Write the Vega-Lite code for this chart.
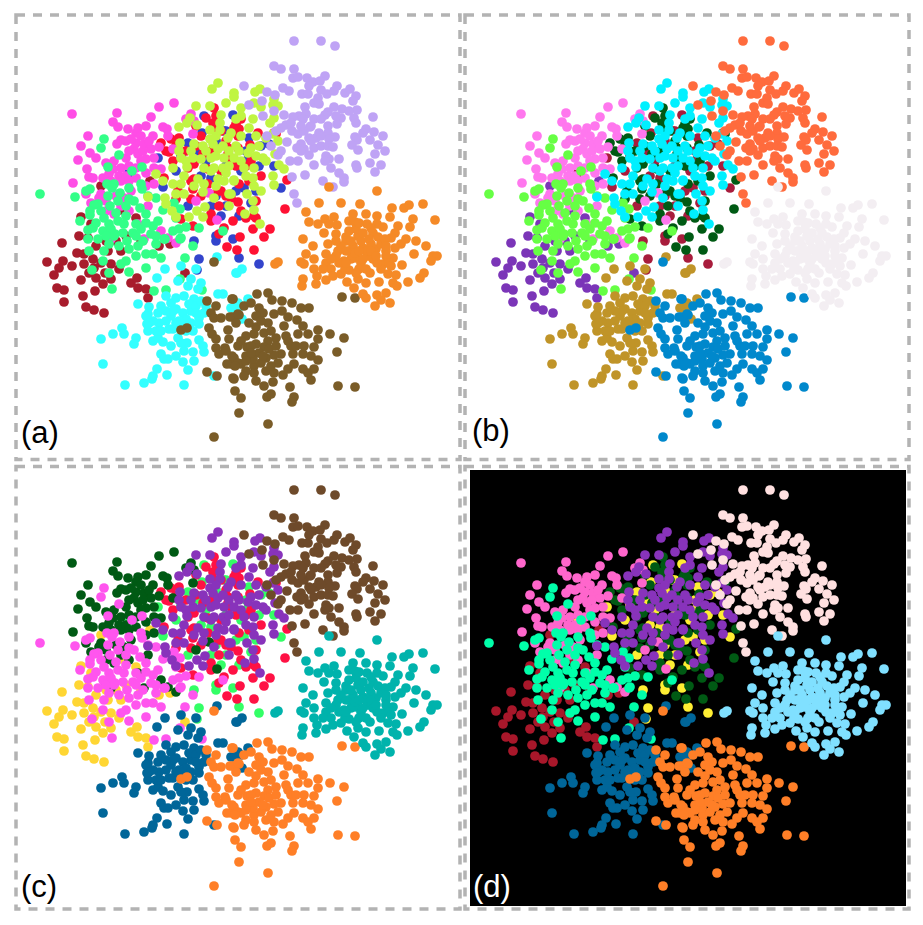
{"$schema":"https://vega.github.io/schema/vega-lite/v6.json","background":"white","padding":{"left":14,"top":13,"right":0,"bottom":0},"columns":2,"spacing":{"row":2.5,"column":1},"resolve":{"scale":{"color":"independent"}},"config":{"view":{"stroke":"#b3b3b3","strokeWidth":3.5,"strokeDash":[9,8]}},
"datasets":{"labels":[{"p":"a","x":20,"y":442,"t":"(a)"},{"p":"b","x":22,"y":440,"t":"(b)"},{"p":"c","x":20,"y":447,"t":"(c)"},{"p":"d","x":23,"y":447,"t":"(d)"}],"bg":[{"x":20,"x2":456,"y":20,"y2":456}],
"pts":[
{"c":"R","x":61,"y":242},{"c":"R","x":46,"y":261},{"c":"R","x":62,"y":260},{"c":"R","x":58,"y":267},{"c":"R","x":71,"y":265},{"c":"R","x":53,"y":274},{"c":"R","x":56,"y":287},{"c":"R","x":63,"y":289},{"c":"R","x":63,"y":301},{"c":"R","x":80,"y":279},{"c":"R","x":82,"y":295},{"c":"R","x":85,"y":306},{"c":"R","x":93,"y":309},{"c":"R","x":103,"y":312},{"c":"R","x":94,"y":290},{"c":"R","x":76,"y":252},{"c":"R","x":83,"y":253},{"c":"R","x":83,"y":263},{"c":"R","x":92,"y":258},{"c":"R","x":78,"y":235},{"c":"R","x":107,"y":250},{"c":"R","x":120,"y":250},{"c":"R","x":110,"y":263},{"c":"R","x":93,"y":267},{"c":"R","x":95,"y":277},{"c":"R","x":102,"y":283},{"c":"R","x":110,"y":278},{"c":"R","x":130,"y":282},{"c":"R","x":136,"y":277},{"c":"R","x":137,"y":287},{"c":"R","x":145,"y":288},{"c":"R","x":147,"y":297},{"c":"R","x":184,"y":272},{"c":"R","x":169,"y":243},{"c":"R","x":158,"y":245},{"c":"R","x":140,"y":240},{"c":"R","x":80,"y":216},{"c":"R","x":120,"y":209},{"c":"R","x":135,"y":217},{"c":"R","x":149,"y":180},{"c":"R","x":100,"y":185},{"c":"R","x":90,"y":223},{"c":"R","x":87,"y":237},{"c":"R","x":105,"y":240},{"c":"R","x":115,"y":240},{"c":"R","x":95,"y":245},{"c":"R","x":125,"y":235},{"c":"R","x":100,"y":262},{"c":"R","x":118,"y":268},{"c":"R","x":104,"y":272},{"c":"R","x":88,"y":272},
{"c":"U","x":203,"y":115},{"c":"U","x":232,"y":114},{"c":"U","x":201,"y":132},{"c":"U","x":223,"y":130},{"c":"U","x":187,"y":142},{"c":"U","x":157,"y":157},{"c":"U","x":128,"y":172},{"c":"U","x":162,"y":186},{"c":"U","x":210,"y":177},{"c":"U","x":187,"y":205},{"c":"U","x":193,"y":240},{"c":"U","x":215,"y":240},{"c":"U","x":232,"y":238},{"c":"U","x":238,"y":215},{"c":"U","x":220,"y":215},{"c":"U","x":215,"y":235},{"c":"U","x":198,"y":258},{"c":"U","x":196,"y":269},{"c":"U","x":238,"y":257},{"c":"U","x":258,"y":263},{"c":"U","x":248,"y":137},{"c":"U","x":280,"y":187},{"c":"U","x":247,"y":158},{"c":"U","x":258,"y":165},{"c":"U","x":273,"y":165},{"c":"U","x":240,"y":214},{"c":"U","x":250,"y":202},{"c":"U","x":243,"y":187},{"c":"U","x":268,"y":143},{"c":"U","x":215,"y":140},{"c":"U","x":225,"y":165},{"c":"U","x":205,"y":160},{"c":"U","x":240,"y":170},{"c":"U","x":195,"y":150},{"c":"U","x":235,"y":190},{"c":"U","x":215,"y":195},{"c":"U","x":200,"y":175},{"c":"U","x":225,"y":130},{"c":"U","x":175,"y":170},{"c":"U","x":180,"y":155},{"c":"U","x":255,"y":190},{"c":"U","x":245,"y":150},{"c":"U","x":260,"y":145},{"c":"U","x":225,"y":205},{"c":"U","x":210,"y":205},
{"c":"E","x":213,"y":107},{"c":"E","x":205,"y":117},{"c":"E","x":212,"y":122},{"c":"E","x":235,"y":123},{"c":"E","x":238,"y":128},{"c":"E","x":170,"y":138},{"c":"E","x":165,"y":150},{"c":"E","x":227,"y":147},{"c":"E","x":273,"y":132},{"c":"E","x":286,"y":179},{"c":"E","x":284,"y":208},{"c":"E","x":269,"y":228},{"c":"E","x":263,"y":236},{"c":"E","x":239,"y":236},{"c":"E","x":253,"y":249},{"c":"E","x":226,"y":246},{"c":"E","x":236,"y":249},{"c":"E","x":252,"y":228},{"c":"E","x":232,"y":220},{"c":"E","x":223,"y":227},{"c":"E","x":218,"y":233},{"c":"E","x":210,"y":220},{"c":"E","x":210,"y":213},{"c":"E","x":218,"y":205},{"c":"E","x":237,"y":201},{"c":"E","x":253,"y":215},{"c":"E","x":190,"y":198},{"c":"E","x":192,"y":188},{"c":"E","x":217,"y":190},{"c":"E","x":207,"y":168},{"c":"E","x":230,"y":157},{"c":"E","x":193,"y":178},{"c":"E","x":192,"y":225},{"c":"E","x":180,"y":218},{"c":"E","x":257,"y":132},{"c":"E","x":249,"y":144},{"c":"E","x":237,"y":135},{"c":"E","x":233,"y":127},{"c":"E","x":245,"y":217},{"c":"E","x":255,"y":217},{"c":"E","x":230,"y":197},{"c":"E","x":238,"y":183},{"c":"E","x":248,"y":180},{"c":"E","x":260,"y":175},{"c":"E","x":275,"y":133},{"c":"E","x":178,"y":137},{"c":"E","x":160,"y":142},{"c":"E","x":168,"y":151},{"c":"E","x":172,"y":160},{"c":"E","x":200,"y":135},{"c":"E","x":193,"y":163},{"c":"E","x":207,"y":183},{"c":"E","x":190,"y":180},{"c":"E","x":220,"y":190},{"c":"E","x":237,"y":147},{"c":"E","x":227,"y":153},{"c":"E","x":220,"y":130},{"c":"E","x":177,"y":190},{"c":"E","x":187,"y":167},{"c":"E","x":202,"y":153},{"c":"E","x":163,"y":177},{"c":"E","x":175,"y":198},{"c":"E","x":215,"y":130},{"c":"E","x":225,"y":140},{"c":"E","x":210,"y":150},{"c":"E","x":235,"y":165},{"c":"E","x":220,"y":170},{"c":"E","x":245,"y":165},{"c":"E","x":200,"y":195},{"c":"E","x":225,"y":195},{"c":"E","x":240,"y":210},{"c":"E","x":250,"y":160},{"c":"E","x":195,"y":145},{"c":"E","x":185,"y":150},{"c":"E","x":255,"y":200},{"c":"E","x":195,"y":125},{"c":"E","x":215,"y":115},{"c":"E","x":175,"y":145},{"c":"E","x":240,"y":118},
{"c":"P","x":71,"y":113},{"c":"P","x":116,"y":112},{"c":"P","x":112,"y":121},{"c":"P","x":117,"y":126},{"c":"P","x":158,"y":106},{"c":"P","x":150,"y":116},{"c":"P","x":173,"y":102},{"c":"P","x":87,"y":135},{"c":"P","x":80,"y":145},{"c":"P","x":89,"y":152},{"c":"P","x":95,"y":157},{"c":"P","x":77,"y":159},{"c":"P","x":86,"y":168},{"c":"P","x":72,"y":182},{"c":"P","x":88,"y":176},{"c":"P","x":92,"y":177},{"c":"P","x":127,"y":128},{"c":"P","x":137,"y":127},{"c":"P","x":145,"y":125},{"c":"P","x":135,"y":132},{"c":"P","x":162,"y":126},{"c":"P","x":166,"y":128},{"c":"P","x":167,"y":135},{"c":"P","x":152,"y":135},{"c":"P","x":120,"y":139},{"c":"P","x":116,"y":143},{"c":"P","x":135,"y":142},{"c":"P","x":143,"y":143},{"c":"P","x":158,"y":146},{"c":"P","x":150,"y":148},{"c":"P","x":133,"y":148},{"c":"P","x":137,"y":153},{"c":"P","x":125,"y":157},{"c":"P","x":153,"y":157},{"c":"P","x":145,"y":158},{"c":"P","x":105,"y":162},{"c":"P","x":113,"y":160},{"c":"P","x":120,"y":167},{"c":"P","x":118,"y":175},{"c":"P","x":135,"y":167},{"c":"P","x":153,"y":167},{"c":"P","x":160,"y":168},{"c":"P","x":102,"y":177},{"c":"P","x":108,"y":173},{"c":"P","x":120,"y":180},{"c":"P","x":135,"y":177},{"c":"P","x":153,"y":183},{"c":"P","x":100,"y":193},{"c":"P","x":85,"y":193},{"c":"P","x":90,"y":202},{"c":"P","x":98,"y":197},{"c":"P","x":130,"y":190},{"c":"P","x":123,"y":197},{"c":"P","x":105,"y":210},{"c":"P","x":113,"y":213},{"c":"P","x":128,"y":210},{"c":"P","x":147,"y":205},{"c":"P","x":137,"y":223},{"c":"P","x":160,"y":230},{"c":"P","x":190,"y":113},{"c":"P","x":193,"y":120},{"c":"P","x":185,"y":118},{"c":"P","x":192,"y":133},{"c":"P","x":172,"y":148},{"c":"P","x":195,"y":200},{"c":"P","x":216,"y":219},{"c":"P","x":208,"y":192},{"c":"P","x":105,"y":233},{"c":"P","x":110,"y":238},{"c":"P","x":143,"y":238},{"c":"P","x":175,"y":242},{"c":"P","x":167,"y":237},{"c":"P","x":125,"y":140},{"c":"P","x":130,"y":138},{"c":"P","x":140,"y":135},{"c":"P","x":148,"y":140},{"c":"P","x":128,"y":150},{"c":"P","x":142,"y":150},{"c":"P","x":140,"y":160},{"c":"P","x":128,"y":165},{"c":"P","x":112,"y":168},{"c":"P","x":125,"y":175},{"c":"P","x":145,"y":172},{"c":"P","x":110,"y":180},{"c":"P","x":128,"y":180},{"c":"P","x":145,"y":185},{"c":"P","x":115,"y":195},{"c":"P","x":105,"y":200},{"c":"P","x":120,"y":205},
{"c":"G","x":39,"y":193},{"c":"G","x":74,"y":196},{"c":"G","x":85,"y":190},{"c":"G","x":89,"y":188},{"c":"G","x":103,"y":138},{"c":"G","x":100,"y":147},{"c":"G","x":118,"y":154},{"c":"G","x":107,"y":166},{"c":"G","x":131,"y":170},{"c":"G","x":141,"y":166},{"c":"G","x":106,"y":183},{"c":"G","x":113,"y":183},{"c":"G","x":111,"y":187},{"c":"G","x":128,"y":187},{"c":"G","x":140,"y":183},{"c":"G","x":141,"y":188},{"c":"G","x":147,"y":195},{"c":"G","x":155,"y":197},{"c":"G","x":119,"y":192},{"c":"G","x":107,"y":195},{"c":"G","x":97,"y":203},{"c":"G","x":93,"y":204},{"c":"G","x":89,"y":210},{"c":"G","x":89,"y":214},{"c":"G","x":79,"y":220},{"c":"G","x":109,"y":205},{"c":"G","x":117,"y":200},{"c":"G","x":128,"y":198},{"c":"G","x":133,"y":200},{"c":"G","x":139,"y":207},{"c":"G","x":145,"y":213},{"c":"G","x":103,"y":217},{"c":"G","x":108,"y":223},{"c":"G","x":87,"y":229},{"c":"G","x":92,"y":227},{"c":"G","x":102,"y":230},{"c":"G","x":117,"y":220},{"c":"G","x":123,"y":223},{"c":"G","x":135,"y":223},{"c":"G","x":132,"y":232},{"c":"G","x":114,"y":233},{"c":"G","x":126,"y":240},{"c":"G","x":152,"y":225},{"c":"G","x":157,"y":220},{"c":"G","x":162,"y":209},{"c":"G","x":173,"y":202},{"c":"G","x":179,"y":208},{"c":"G","x":175,"y":217},{"c":"G","x":185,"y":226},{"c":"G","x":198,"y":227},{"c":"G","x":172,"y":230},{"c":"G","x":178,"y":228},{"c":"G","x":180,"y":237},{"c":"G","x":164,"y":238},{"c":"G","x":150,"y":233},{"c":"G","x":222,"y":230},{"c":"G","x":97,"y":238},{"c":"G","x":87,"y":238},{"c":"G","x":88,"y":250},{"c":"G","x":108,"y":243},{"c":"G","x":103,"y":250},{"c":"G","x":113,"y":235},{"c":"G","x":135,"y":235},{"c":"G","x":137,"y":245},{"c":"G","x":145,"y":253},{"c":"G","x":152,"y":253},{"c":"G","x":155,"y":243},{"c":"G","x":163,"y":238},{"c":"G","x":179,"y":238},{"c":"G","x":192,"y":245},{"c":"G","x":184,"y":257},{"c":"G","x":160,"y":257},{"c":"G","x":145,"y":267},{"c":"G","x":135,"y":255},{"c":"G","x":125,"y":260},{"c":"G","x":120,"y":263},{"c":"G","x":102,"y":260},{"c":"G","x":91,"y":269},{"c":"G","x":108,"y":272},{"c":"G","x":128,"y":271},{"c":"G","x":111,"y":288},{"c":"G","x":153,"y":290},{"c":"G","x":165,"y":289},{"c":"G","x":179,"y":278},{"c":"G","x":201,"y":289},{"c":"G","x":100,"y":210},{"c":"G","x":115,"y":212},{"c":"G","x":125,"y":215},{"c":"G","x":95,"y":222},{"c":"G","x":110,"y":228},{"c":"G","x":122,"y":232},{"c":"G","x":140,"y":228},{"c":"G","x":145,"y":222},{"c":"G","x":125,"y":205},{"c":"G","x":118,"y":245},{"c":"G","x":128,"y":248},{"c":"G","x":142,"y":240},{"c":"G","x":105,"y":235},{"c":"G","x":155,"y":235},
{"c":"Y","x":217,"y":82},{"c":"Y","x":211,"y":88},{"c":"Y","x":233,"y":92},{"c":"Y","x":233,"y":96},{"c":"Y","x":225,"y":102},{"c":"Y","x":195,"y":105},{"c":"Y","x":209,"y":105},{"c":"Y","x":189,"y":117},{"c":"Y","x":186,"y":122},{"c":"Y","x":196,"y":124},{"c":"Y","x":178,"y":126},{"c":"Y","x":220,"y":114},{"c":"Y","x":219,"y":122},{"c":"Y","x":209,"y":129},{"c":"Y","x":219,"y":129},{"c":"Y","x":230,"y":132},{"c":"Y","x":227,"y":137},{"c":"Y","x":209,"y":138},{"c":"Y","x":179,"y":142},{"c":"Y","x":193,"y":143},{"c":"Y","x":202,"y":145},{"c":"Y","x":178,"y":150},{"c":"Y","x":180,"y":157},{"c":"Y","x":192,"y":157},{"c":"Y","x":212,"y":143},{"c":"Y","x":217,"y":148},{"c":"Y","x":210,"y":157},{"c":"Y","x":223,"y":157},{"c":"Y","x":233,"y":157},{"c":"Y","x":172,"y":167},{"c":"Y","x":186,"y":166},{"c":"Y","x":203,"y":167},{"c":"Y","x":213,"y":167},{"c":"Y","x":222,"y":167},{"c":"Y","x":155,"y":173},{"c":"Y","x":162,"y":180},{"c":"Y","x":172,"y":183},{"c":"Y","x":183,"y":175},{"c":"Y","x":180,"y":183},{"c":"Y","x":197,"y":178},{"c":"Y","x":193,"y":185},{"c":"Y","x":203,"y":183},{"c":"Y","x":217,"y":178},{"c":"Y","x":223,"y":180},{"c":"Y","x":233,"y":179},{"c":"Y","x":175,"y":193},{"c":"Y","x":183,"y":193},{"c":"Y","x":202,"y":191},{"c":"Y","x":228,"y":193},{"c":"Y","x":147,"y":196},{"c":"Y","x":164,"y":197},{"c":"Y","x":165,"y":203},{"c":"Y","x":213,"y":197},{"c":"Y","x":204,"y":206},{"c":"Y","x":228,"y":205},{"c":"Y","x":171,"y":210},{"c":"Y","x":175,"y":216},{"c":"Y","x":188,"y":216},{"c":"Y","x":196,"y":210},{"c":"Y","x":202,"y":216},{"c":"Y","x":259,"y":88},{"c":"Y","x":254,"y":91},{"c":"Y","x":273,"y":98},{"c":"Y","x":253,"y":102},{"c":"Y","x":260,"y":106},{"c":"Y","x":272,"y":104},{"c":"Y","x":277,"y":105},{"c":"Y","x":240,"y":107},{"c":"Y","x":240,"y":115},{"c":"Y","x":235,"y":118},{"c":"Y","x":252,"y":118},{"c":"Y","x":273,"y":117},{"c":"Y","x":269,"y":122},{"c":"Y","x":248,"y":127},{"c":"Y","x":255,"y":135},{"c":"Y","x":272,"y":133},{"c":"Y","x":265,"y":137},{"c":"Y","x":277,"y":140},{"c":"Y","x":258,"y":145},{"c":"Y","x":250,"y":147},{"c":"Y","x":238,"y":150},{"c":"Y","x":274,"y":153},{"c":"Y","x":262,"y":157},{"c":"Y","x":247,"y":152},{"c":"Y","x":243,"y":167},{"c":"Y","x":253,"y":167},{"c":"Y","x":265,"y":160},{"c":"Y","x":278,"y":164},{"c":"Y","x":283,"y":168},{"c":"Y","x":272,"y":175},{"c":"Y","x":252,"y":177},{"c":"Y","x":233,"y":180},{"c":"Y","x":273,"y":184},{"c":"Y","x":253,"y":185},{"c":"Y","x":260,"y":190},{"c":"Y","x":246,"y":193},{"c":"Y","x":252,"y":200},{"c":"Y","x":253,"y":209},{"c":"Y","x":244,"y":213},{"c":"Y","x":259,"y":223},{"c":"Y","x":230,"y":193},{"c":"Y","x":222,"y":145},{"c":"Y","x":215,"y":155},{"c":"Y","x":205,"y":150},{"c":"Y","x":228,"y":150},{"c":"Y","x":240,"y":135},{"c":"Y","x":210,"y":170},{"c":"Y","x":225,"y":172},{"c":"Y","x":190,"y":150},{"c":"Y","x":200,"y":158},{"c":"Y","x":215,"y":135},{"c":"Y","x":235,"y":145},{"c":"Y","x":228,"y":165},{"c":"Y","x":240,"y":160},{"c":"Y","x":255,"y":155},{"c":"Y","x":245,"y":175},{"c":"Y","x":215,"y":185},{"c":"Y","x":185,"y":160},
{"c":"C","x":100,"y":338},{"c":"C","x":112,"y":333},{"c":"C","x":121,"y":327},{"c":"C","x":123,"y":333},{"c":"C","x":135,"y":337},{"c":"C","x":133,"y":343},{"c":"C","x":102,"y":363},{"c":"C","x":124,"y":384},{"c":"C","x":143,"y":382},{"c":"C","x":151,"y":378},{"c":"C","x":152,"y":375},{"c":"C","x":156,"y":368},{"c":"C","x":166,"y":374},{"c":"C","x":183,"y":384},{"c":"C","x":160,"y":353},{"c":"C","x":163,"y":358},{"c":"C","x":167,"y":358},{"c":"C","x":175,"y":355},{"c":"C","x":182,"y":361},{"c":"C","x":187,"y":369},{"c":"C","x":193,"y":360},{"c":"C","x":192,"y":351},{"c":"C","x":203,"y":351},{"c":"C","x":183,"y":350},{"c":"C","x":186,"y":342},{"c":"C","x":198,"y":339},{"c":"C","x":202,"y":345},{"c":"C","x":152,"y":340},{"c":"C","x":157,"y":337},{"c":"C","x":162,"y":341},{"c":"C","x":177,"y":337},{"c":"C","x":168,"y":328},{"c":"C","x":147,"y":330},{"c":"C","x":146,"y":323},{"c":"C","x":158,"y":322},{"c":"C","x":157,"y":312},{"c":"C","x":147,"y":313},{"c":"C","x":148,"y":306},{"c":"C","x":137,"y":303},{"c":"C","x":170,"y":302},{"c":"C","x":175,"y":308},{"c":"C","x":183,"y":295},{"c":"C","x":182,"y":312},{"c":"C","x":193,"y":298},{"c":"C","x":190,"y":310},{"c":"C","x":198,"y":317},{"c":"C","x":198,"y":323},{"c":"C","x":182,"y":322},{"c":"C","x":203,"y":312},{"c":"C","x":217,"y":293},{"c":"C","x":222,"y":293},{"c":"C","x":230,"y":307},{"c":"C","x":240,"y":305},{"c":"C","x":165,"y":295},{"c":"C","x":164,"y":268},{"c":"C","x":156,"y":277},{"c":"C","x":177,"y":280},{"c":"C","x":180,"y":265},{"c":"C","x":216,"y":256},{"c":"C","x":187,"y":285},{"c":"C","x":200,"y":282},{"c":"C","x":197,"y":288},{"c":"C","x":195,"y":268},{"c":"C","x":190,"y":278},{"c":"C","x":235,"y":272},{"c":"C","x":236,"y":272},{"c":"C","x":241,"y":268},{"c":"C","x":233,"y":307},{"c":"C","x":237,"y":302},{"c":"C","x":247,"y":298},{"c":"C","x":241,"y":318},{"c":"C","x":213,"y":375},{"c":"C","x":170,"y":315},{"c":"C","x":165,"y":320},{"c":"C","x":155,"y":330},{"c":"C","x":172,"y":328},{"c":"C","x":188,"y":303},{"c":"C","x":195,"y":305},{"c":"C","x":175,"y":297},{"c":"C","x":160,"y":305},{"c":"C","x":152,"y":320},{"c":"C","x":185,"y":318},{"c":"C","x":205,"y":305},{"c":"C","x":180,"y":342},{"c":"C","x":192,"y":330},{"c":"C","x":145,"y":315},{"c":"C","x":170,"y":345},{"c":"C","x":148,"y":322},{"c":"C","x":172,"y":310},{"c":"C","x":178,"y":320},{"c":"C","x":165,"y":310},{"c":"C","x":190,"y":322},{"c":"C","x":195,"y":312},{"c":"C","x":160,"y":330},{"c":"C","x":175,"y":322},{"c":"C","x":185,"y":330},{"c":"C","x":200,"y":300},
{"c":"B","x":256,"y":293},{"c":"B","x":267,"y":292},{"c":"B","x":271,"y":299},{"c":"B","x":281,"y":300},{"c":"B","x":291,"y":302},{"c":"B","x":300,"y":307},{"c":"B","x":308,"y":307},{"c":"B","x":341,"y":296},{"c":"B","x":354,"y":297},{"c":"B","x":243,"y":305},{"c":"B","x":250,"y":302},{"c":"B","x":258,"y":307},{"c":"B","x":262,"y":312},{"c":"B","x":255,"y":315},{"c":"B","x":238,"y":314},{"c":"B","x":232,"y":316},{"c":"B","x":232,"y":298},{"c":"B","x":273,"y":313},{"c":"B","x":281,"y":310},{"c":"B","x":287,"y":316},{"c":"B","x":283,"y":325},{"c":"B","x":296,"y":319},{"c":"B","x":302,"y":325},{"c":"B","x":267,"y":322},{"c":"B","x":255,"y":326},{"c":"B","x":253,"y":333},{"c":"B","x":263,"y":332},{"c":"B","x":297,"y":333},{"c":"B","x":307,"y":333},{"c":"B","x":317,"y":329},{"c":"B","x":329,"y":333},{"c":"B","x":343,"y":337},{"c":"B","x":275,"y":337},{"c":"B","x":267,"y":340},{"c":"B","x":255,"y":343},{"c":"B","x":237,"y":345},{"c":"B","x":246,"y":346},{"c":"B","x":263,"y":346},{"c":"B","x":287,"y":340},{"c":"B","x":290,"y":345},{"c":"B","x":303,"y":345},{"c":"B","x":313,"y":346},{"c":"B","x":317,"y":338},{"c":"B","x":336,"y":351},{"c":"B","x":280,"y":353},{"c":"B","x":292,"y":353},{"c":"B","x":302,"y":353},{"c":"B","x":310,"y":355},{"c":"B","x":317,"y":359},{"c":"B","x":265,"y":357},{"c":"B","x":273,"y":354},{"c":"B","x":277,"y":362},{"c":"B","x":293,"y":363},{"c":"B","x":245,"y":355},{"c":"B","x":233,"y":357},{"c":"B","x":230,"y":363},{"c":"B","x":240,"y":363},{"c":"B","x":253,"y":365},{"c":"B","x":265,"y":370},{"c":"B","x":273,"y":372},{"c":"B","x":282,"y":374},{"c":"B","x":287,"y":368},{"c":"B","x":302,"y":368},{"c":"B","x":307,"y":372},{"c":"B","x":313,"y":368},{"c":"B","x":310,"y":379},{"c":"B","x":253,"y":372},{"c":"B","x":245,"y":370},{"c":"B","x":233,"y":378},{"c":"B","x":263,"y":385},{"c":"B","x":272,"y":381},{"c":"B","x":289,"y":386},{"c":"B","x":337,"y":385},{"c":"B","x":354,"y":386},{"c":"B","x":234,"y":390},{"c":"B","x":240,"y":397},{"c":"B","x":266,"y":396},{"c":"B","x":270,"y":393},{"c":"B","x":293,"y":396},{"c":"B","x":291,"y":401},{"c":"B","x":238,"y":412},{"c":"B","x":267,"y":423},{"c":"B","x":213,"y":261},{"c":"B","x":206,"y":300},{"c":"B","x":215,"y":305},{"c":"B","x":231,"y":298},{"c":"B","x":210,"y":312},{"c":"B","x":213,"y":317},{"c":"B","x":220,"y":317},{"c":"B","x":229,"y":316},{"c":"B","x":237,"y":313},{"c":"B","x":180,"y":329},{"c":"B","x":186,"y":327},{"c":"B","x":208,"y":327},{"c":"B","x":227,"y":329},{"c":"B","x":211,"y":333},{"c":"B","x":215,"y":338},{"c":"B","x":215,"y":347},{"c":"B","x":224,"y":347},{"c":"B","x":218,"y":353},{"c":"B","x":231,"y":355},{"c":"B","x":226,"y":363},{"c":"B","x":237,"y":362},{"c":"B","x":234,"y":365},{"c":"B","x":206,"y":371},{"c":"B","x":216,"y":375},{"c":"B","x":232,"y":377},{"c":"B","x":213,"y":436},{"c":"B","x":245,"y":335},{"c":"B","x":250,"y":345},{"c":"B","x":258,"y":352},{"c":"B","x":240,"y":340},{"c":"B","x":252,"y":358},{"c":"B","x":260,"y":362},{"c":"B","x":268,"y":348},{"c":"B","x":228,"y":338},{"c":"B","x":243,"y":375},{"c":"B","x":248,"y":322},{"c":"B","x":235,"y":322},{"c":"B","x":260,"y":320},{"c":"B","x":270,"y":330},{"c":"B","x":285,"y":335},{"c":"B","x":250,"y":352},{"c":"B","x":262,"y":355},{"c":"B","x":275,"y":345},{"c":"B","x":295,"y":345},{"c":"B","x":245,"y":360},{"c":"B","x":225,"y":350},{"c":"B","x":270,"y":365},{"c":"B","x":255,"y":380},
{"c":"L","x":293,"y":40},{"c":"L","x":320,"y":40},{"c":"L","x":334,"y":45},{"c":"L","x":273,"y":65},{"c":"L","x":280,"y":68},{"c":"L","x":293,"y":68},{"c":"L","x":292,"y":77},{"c":"L","x":297,"y":76},{"c":"L","x":306,"y":77},{"c":"L","x":324,"y":75},{"c":"L","x":312,"y":81},{"c":"L","x":319,"y":80},{"c":"L","x":308,"y":85},{"c":"L","x":282,"y":87},{"c":"L","x":288,"y":90},{"c":"L","x":301,"y":93},{"c":"L","x":307,"y":93},{"c":"L","x":320,"y":89},{"c":"L","x":326,"y":93},{"c":"L","x":333,"y":90},{"c":"L","x":336,"y":85},{"c":"L","x":344,"y":92},{"c":"L","x":349,"y":88},{"c":"L","x":355,"y":95},{"c":"L","x":352,"y":100},{"c":"L","x":266,"y":91},{"c":"L","x":274,"y":94},{"c":"L","x":261,"y":100},{"c":"L","x":248,"y":104},{"c":"L","x":243,"y":85},{"c":"L","x":317,"y":97},{"c":"L","x":313,"y":102},{"c":"L","x":318,"y":103},{"c":"L","x":304,"y":106},{"c":"L","x":333,"y":106},{"c":"L","x":327,"y":111},{"c":"L","x":324,"y":114},{"c":"L","x":341,"y":108},{"c":"L","x":356,"y":109},{"c":"L","x":348,"y":110},{"c":"L","x":353,"y":117},{"c":"L","x":355,"y":122},{"c":"L","x":372,"y":116},{"c":"L","x":340,"y":117},{"c":"L","x":336,"y":123},{"c":"L","x":298,"y":115},{"c":"L","x":305,"y":113},{"c":"L","x":292,"y":116},{"c":"L","x":283,"y":114},{"c":"L","x":273,"y":110},{"c":"L","x":262,"y":115},{"c":"L","x":313,"y":118},{"c":"L","x":302,"y":118},{"c":"L","x":280,"y":127},{"c":"L","x":285,"y":124},{"c":"L","x":291,"y":130},{"c":"L","x":297,"y":133},{"c":"L","x":303,"y":130},{"c":"L","x":309,"y":126},{"c":"L","x":327,"y":125},{"c":"L","x":327,"y":132},{"c":"L","x":318,"y":132},{"c":"L","x":315,"y":137},{"c":"L","x":308,"y":137},{"c":"L","x":334,"y":136},{"c":"L","x":328,"y":138},{"c":"L","x":365,"y":128},{"c":"L","x":362,"y":132},{"c":"L","x":373,"y":131},{"c":"L","x":382,"y":135},{"c":"L","x":354,"y":136},{"c":"L","x":356,"y":139},{"c":"L","x":369,"y":139},{"c":"L","x":377,"y":144},{"c":"L","x":351,"y":144},{"c":"L","x":357,"y":149},{"c":"L","x":384,"y":150},{"c":"L","x":374,"y":153},{"c":"L","x":286,"y":141},{"c":"L","x":300,"y":143},{"c":"L","x":296,"y":147},{"c":"L","x":303,"y":148},{"c":"L","x":308,"y":154},{"c":"L","x":313,"y":147},{"c":"L","x":320,"y":145},{"c":"L","x":327,"y":145},{"c":"L","x":332,"y":146},{"c":"L","x":325,"y":155},{"c":"L","x":328,"y":158},{"c":"L","x":324,"y":160},{"c":"L","x":338,"y":158},{"c":"L","x":289,"y":160},{"c":"L","x":297,"y":160},{"c":"L","x":313,"y":164},{"c":"L","x":330,"y":167},{"c":"L","x":355,"y":164},{"c":"L","x":356,"y":167},{"c":"L","x":369,"y":162},{"c":"L","x":380,"y":164},{"c":"L","x":374,"y":171},{"c":"L","x":338,"y":172},{"c":"L","x":343,"y":177},{"c":"L","x":343,"y":181},{"c":"L","x":304,"y":174},{"c":"L","x":291,"y":176},{"c":"L","x":322,"y":180},{"c":"L","x":332,"y":186},{"c":"L","x":293,"y":193},{"c":"L","x":296,"y":202},{"c":"L","x":277,"y":154},{"c":"L","x":266,"y":135},{"c":"L","x":275,"y":130},{"c":"L","x":270,"y":145},{"c":"L","x":280,"y":150},{"c":"L","x":310,"y":125},{"c":"L","x":320,"y":118},{"c":"L","x":300,"y":125},{"c":"L","x":290,"y":122},{"c":"L","x":310,"y":140},{"c":"L","x":300,"y":150},{"c":"L","x":320,"y":135},{"c":"L","x":335,"y":115},
{"c":"O","x":328,"y":186},{"c":"O","x":376,"y":190},{"c":"O","x":318,"y":202},{"c":"O","x":340,"y":202},{"c":"O","x":359,"y":203},{"c":"O","x":305,"y":211},{"c":"O","x":308,"y":221},{"c":"O","x":317,"y":223},{"c":"O","x":391,"y":207},{"c":"O","x":403,"y":207},{"c":"O","x":408,"y":204},{"c":"O","x":422,"y":203},{"c":"O","x":434,"y":219},{"c":"O","x":412,"y":218},{"c":"O","x":409,"y":226},{"c":"O","x":389,"y":216},{"c":"O","x":376,"y":215},{"c":"O","x":324,"y":218},{"c":"O","x":333,"y":216},{"c":"O","x":328,"y":223},{"c":"O","x":336,"y":224},{"c":"O","x":352,"y":213},{"c":"O","x":348,"y":220},{"c":"O","x":365,"y":213},{"c":"O","x":366,"y":223},{"c":"O","x":354,"y":221},{"c":"O","x":376,"y":223},{"c":"O","x":382,"y":226},{"c":"O","x":397,"y":225},{"c":"O","x":394,"y":232},{"c":"O","x":323,"y":232},{"c":"O","x":335,"y":233},{"c":"O","x":302,"y":238},{"c":"O","x":312,"y":245},{"c":"O","x":327,"y":243},{"c":"O","x":345,"y":236},{"c":"O","x":357,"y":235},{"c":"O","x":372,"y":232},{"c":"O","x":377,"y":236},{"c":"O","x":390,"y":237},{"c":"O","x":400,"y":243},{"c":"O","x":415,"y":240},{"c":"O","x":425,"y":245},{"c":"O","x":413,"y":253},{"c":"O","x":432,"y":255},{"c":"O","x":436,"y":255},{"c":"O","x":430,"y":260},{"c":"O","x":305,"y":253},{"c":"O","x":313,"y":258},{"c":"O","x":300,"y":261},{"c":"O","x":303,"y":263},{"c":"O","x":325,"y":253},{"c":"O","x":337,"y":250},{"c":"O","x":348,"y":250},{"c":"O","x":362,"y":247},{"c":"O","x":370,"y":243},{"c":"O","x":385,"y":250},{"c":"O","x":392,"y":257},{"c":"O","x":382,"y":263},{"c":"O","x":401,"y":264},{"c":"O","x":325,"y":262},{"c":"O","x":330,"y":268},{"c":"O","x":343,"y":260},{"c":"O","x":355,"y":257},{"c":"O","x":367,"y":255},{"c":"O","x":348,"y":269},{"c":"O","x":369,"y":272},{"c":"O","x":380,"y":268},{"c":"O","x":313,"y":268},{"c":"O","x":316,"y":275},{"c":"O","x":302,"y":278},{"c":"O","x":301,"y":285},{"c":"O","x":315,"y":283},{"c":"O","x":325,"y":279},{"c":"O","x":340,"y":273},{"c":"O","x":346,"y":281},{"c":"O","x":357,"y":278},{"c":"O","x":365,"y":282},{"c":"O","x":378,"y":281},{"c":"O","x":353,"y":287},{"c":"O","x":387,"y":273},{"c":"O","x":395,"y":274},{"c":"O","x":392,"y":282},{"c":"O","x":396,"y":285},{"c":"O","x":385,"y":292},{"c":"O","x":407,"y":281},{"c":"O","x":419,"y":277},{"c":"O","x":423,"y":272},{"c":"O","x":362,"y":293},{"c":"O","x":365,"y":297},{"c":"O","x":376,"y":294},{"c":"O","x":380,"y":299},{"c":"O","x":374,"y":305},{"c":"O","x":389,"y":302},{"c":"O","x":274,"y":263},{"c":"O","x":277,"y":261},{"c":"O","x":345,"y":240},{"c":"O","x":352,"y":245},{"c":"O","x":360,"y":240},{"c":"O","x":365,"y":250},{"c":"O","x":375,"y":248},{"c":"O","x":380,"y":243},{"c":"O","x":372,"y":258},{"c":"O","x":360,"y":262},{"c":"O","x":350,"y":258},{"c":"O","x":338,"y":262},{"c":"O","x":335,"y":255},{"c":"O","x":358,"y":268},{"c":"O","x":365,"y":268},{"c":"O","x":355,"y":228},{"c":"O","x":358,"y":222},{"c":"O","x":370,"y":227},{"c":"O","x":385,"y":255},{"c":"O","x":388,"y":262},{"c":"O","x":394,"y":247},{"c":"O","x":340,"y":245},{"c":"O","x":330,"y":258},{"c":"O","x":322,"y":268},{"c":"O","x":332,"y":275},{"c":"O","x":348,"y":230},{"c":"O","x":362,"y":232},{"c":"O","x":384,"y":238},{"c":"O","x":376,"y":262},{"c":"O","x":390,"y":265},{"c":"O","x":405,"y":238},{"c":"O","x":344,"y":268},{"c":"O","x":368,"y":238},{"c":"O","x":354,"y":252},{"c":"O","x":345,"y":250},{"c":"O","x":358,"y":250},{"c":"O","x":350,"y":240},{"c":"O","x":370,"y":250},{"c":"O","x":375,"y":255},{"c":"O","x":362,"y":258},{"c":"O","x":345,"y":262},{"c":"O","x":335,"y":240},{"c":"O","x":385,"y":245},{"c":"O","x":355,"y":272}
]},
"concat":[
{"width":444,"height":444.5,"layer":[
{"data":{"name":"pts"},"mark":{"type":"circle","size":95,"opacity":1},"encoding":{"x":{"field":"x","type":"quantitative","axis":null,"scale":{"domain":[15,459],"nice":false,"zero":false}},"y":{"field":"y","type":"quantitative","axis":null,"scale":{"domain":[458.5,14],"nice":false,"zero":false}},"color":{"field":"c","type":"nominal","legend":null,"scale":{"domain":["L","O","B","C","R","G","P","Y","E","U"],"range":["#bfa3f5","#f58a27","#7a5c28","#33ffff","#a81c2c","#33ff88","#ff4de6","#c0f542","#ff1133","#3344cc"]}}}},
{"data":{"name":"labels"},"transform":[{"filter":"datum.p==='a'"}],"mark":{"type":"text","align":"left","baseline":"alphabetic","font":"Liberation Sans","fontSize":31,"color":"#000000"},"encoding":{"x":{"field":"x","type":"quantitative","axis":null},"y":{"field":"y","type":"quantitative","axis":null},"text":{"field":"t"}}}
]},
{"width":444,"height":444.5,"layer":[
{"data":{"name":"pts"},"mark":{"type":"circle","size":95,"opacity":1},"encoding":{"x":{"field":"x","type":"quantitative","axis":null,"scale":{"domain":[15,459],"nice":false,"zero":false}},"y":{"field":"y","type":"quantitative","axis":null,"scale":{"domain":[458.5,14],"nice":false,"zero":false}},"color":{"field":"c","type":"nominal","legend":null,"scale":{"domain":["L","O","B","C","R","G","P","Y","E","U"],"range":["#ff6b3d","#f3eef2","#0088cc","#c09428","#7b35b8","#66ff44","#ff77ee","#00f0ff","#005a14","#a81c3c"]}}}},
{"data":{"name":"labels"},"transform":[{"filter":"datum.p==='b'"}],"mark":{"type":"text","align":"left","baseline":"alphabetic","font":"Liberation Sans","fontSize":31,"color":"#000000"},"encoding":{"x":{"field":"x","type":"quantitative","axis":null},"y":{"field":"y","type":"quantitative","axis":null},"text":{"field":"t"}}}
]},
{"width":444,"height":442.5,"layer":[
{"data":{"name":"pts"},"mark":{"type":"circle","size":95,"opacity":1},"encoding":{"x":{"field":"x","type":"quantitative","axis":null,"scale":{"domain":[15,459],"nice":false,"zero":false}},"y":{"field":"y","type":"quantitative","axis":null,"scale":{"domain":[459,16.5],"nice":false,"zero":false}},"color":{"field":"c","type":"nominal","legend":null,"scale":{"domain":["L","O","B","C","R","G","P","Y","E","U"],"range":["#6e4a2a","#00b3ac","#ff7f27","#006699","#ffd633","#ff55ee","#005a14","#8833bb","#ff1144","#33ff66"]}}}},
{"data":{"name":"labels"},"transform":[{"filter":"datum.p==='c'"}],"mark":{"type":"text","align":"left","baseline":"alphabetic","font":"Liberation Sans","fontSize":31,"color":"#000000"},"encoding":{"x":{"field":"x","type":"quantitative","axis":null},"y":{"field":"y","type":"quantitative","axis":null},"text":{"field":"t"}}}
]},
{"width":444,"height":442.5,"layer":[
{"data":{"name":"bg"},"mark":{"type":"rect","color":"#000000"},"encoding":{"x":{"field":"x","type":"quantitative","axis":null,"scale":{"domain":[15,459],"nice":false,"zero":false}},"x2":{"field":"x2"},"y":{"field":"y","type":"quantitative","axis":null,"scale":{"domain":[459,16.5],"nice":false,"zero":false}},"y2":{"field":"y2"}}},
{"data":{"name":"pts"},"mark":{"type":"circle","size":95,"opacity":1},"encoding":{"x":{"field":"x","type":"quantitative","axis":null},"y":{"field":"y","type":"quantitative","axis":null},"color":{"field":"c","type":"nominal","legend":null,"scale":{"domain":["L","O","B","C","R","G","P","Y","E","U"],"range":["#ffe0e0","#80e0ff","#ff7f27","#006699","#a8172a","#00ffaa","#ff66cc","#8833bb","#005a14","#ffee33"]}}}},
{"data":{"name":"labels"},"transform":[{"filter":"datum.p==='d'"}],"mark":{"type":"text","align":"left","baseline":"alphabetic","font":"Liberation Sans","fontSize":31,"color":"#ffffff"},"encoding":{"x":{"field":"x","type":"quantitative","axis":null},"y":{"field":"y","type":"quantitative","axis":null},"text":{"field":"t"}}}
]}
]}
